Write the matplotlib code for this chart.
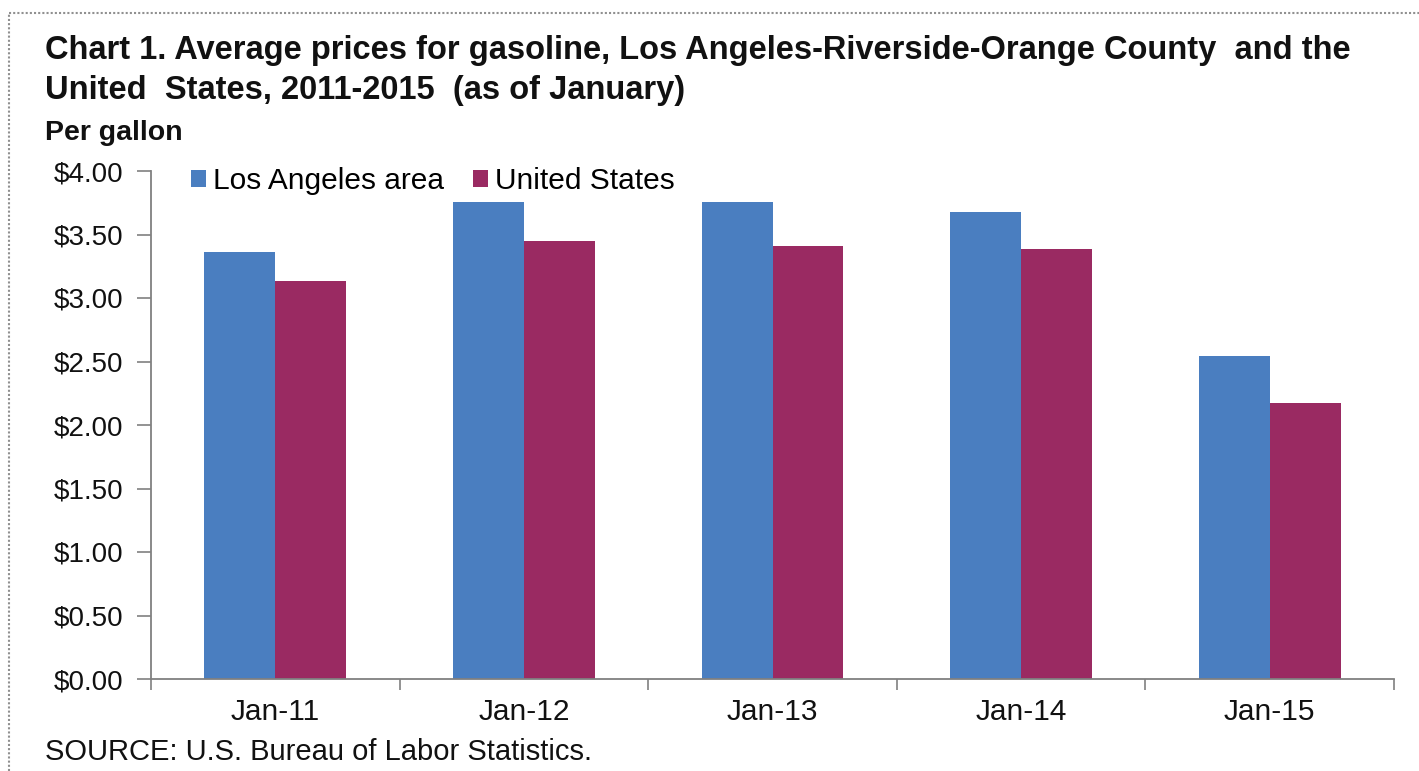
import matplotlib
matplotlib.use("Agg")
import matplotlib.pyplot as plt
import numpy as np
from matplotlib.patches import Patch

categories = ["Jan-11", "Jan-12", "Jan-13", "Jan-14", "Jan-15"]
la_area = [3.365, 3.757, 3.757, 3.678, 2.541]
united_states = [3.137, 3.451, 3.412, 3.388, 2.173]
series_names = ["Los Angeles area", "United States"]
y_ticks = [0.0, 0.5, 1.0, 1.5, 2.0, 2.5, 3.0, 3.5, 4.0]

reg = "Liberation Sans"

BLUE = "#4A7EC0"
MAROON = "#9A2A62"
TXT = "#111111"

W, H = 1419, 771
fig = plt.figure(figsize=(W / 100, H / 100), dpi=100)
ax = fig.add_axes([151 / W, 1 - 679 / H, (1394 - 151) / W, (679 - 171) / H])

x = np.arange(len(categories))
bw = 0.285
ax.bar(x - bw / 2, la_area, width=bw, color=BLUE, linewidth=0)
ax.bar(x + bw / 2, united_states, width=bw, color=MAROON, linewidth=0)

ax.set_xlim(-0.5, len(categories) - 0.5)
ax.set_ylim(0, 4)
ax.set_yticks(y_ticks)
ax.set_yticklabels([f"${v:.2f}" for v in y_ticks], fontfamily=reg, fontsize=20, color=TXT)
ax.set_xticks(np.arange(-0.5, len(categories), 1.0))
ax.set_xticklabels([])
ax.set_xticks(x, minor=True)
ax.set_xticklabels(categories, minor=True, fontfamily=reg, fontsize=21.5, color=TXT)
ax.tick_params(axis="x", which="minor", length=0, pad=14)
ax.tick_params(axis="x", which="major", length=8, color="#808080", width=1.2)
ax.tick_params(axis="y", length=10, color="#808080", width=1.2, pad=10)
for s in ["top", "right"]:
    ax.spines[s].set_visible(False)
for s in ["left", "bottom"]:
    ax.spines[s].set_color("#808080")
    ax.spines[s].set_linewidth(1.3)

handles = [Patch(facecolor=BLUE, edgecolor="none"), Patch(facecolor=MAROON, edgecolor="none")]
fig.legend(handles, series_names, loc="center left", bbox_to_anchor=(191 / W, 1 - 181 / H),
           ncol=2, frameon=False, handlelength=0.5, handleheight=0.5, handletextpad=0.25,
           columnspacing=0.95, borderaxespad=0, borderpad=0,
           prop={"family": reg, "size": 21.5})

fig.text(45 / W, 1 - 50 / H, "Chart 1. Average prices for gasoline, Los Angeles-Riverside-Orange County  and the",
         fontfamily=reg, fontweight="bold", fontsize=23.5, va="center", ha="left", color=TXT)
fig.text(45 / W, 1 - 90 / H, "United  States, 2011-2015  (as of January)",
         fontfamily=reg, fontweight="bold", fontsize=23.5, va="center", ha="left", color=TXT)
fig.text(45 / W, 1 - 133 / H, "Per gallon", fontfamily=reg, fontweight="bold", fontsize=20.5,
         va="center", ha="left", color=TXT)
fig.text(45 / W, 1 - 752 / H, "SOURCE: U.S. Bureau of Labor Statistics.", fontfamily=reg, fontsize=21,
         va="center", ha="left", color=TXT)

# outer chart border (dotted gray)
fig.add_artist(plt.Line2D([9 / W, 9 / W], [0, 1 - 13 / H], transform=fig.transFigure,
                          color="#909090", lw=1.5, ls=(0, (1, 1))))
fig.add_artist(plt.Line2D([9 / W, 1], [1 - 13 / H, 1 - 13 / H], transform=fig.transFigure,
                          color="#909090", lw=1.5, ls=(0, (1, 1))))

fig.savefig("out.png", dpi=100)
